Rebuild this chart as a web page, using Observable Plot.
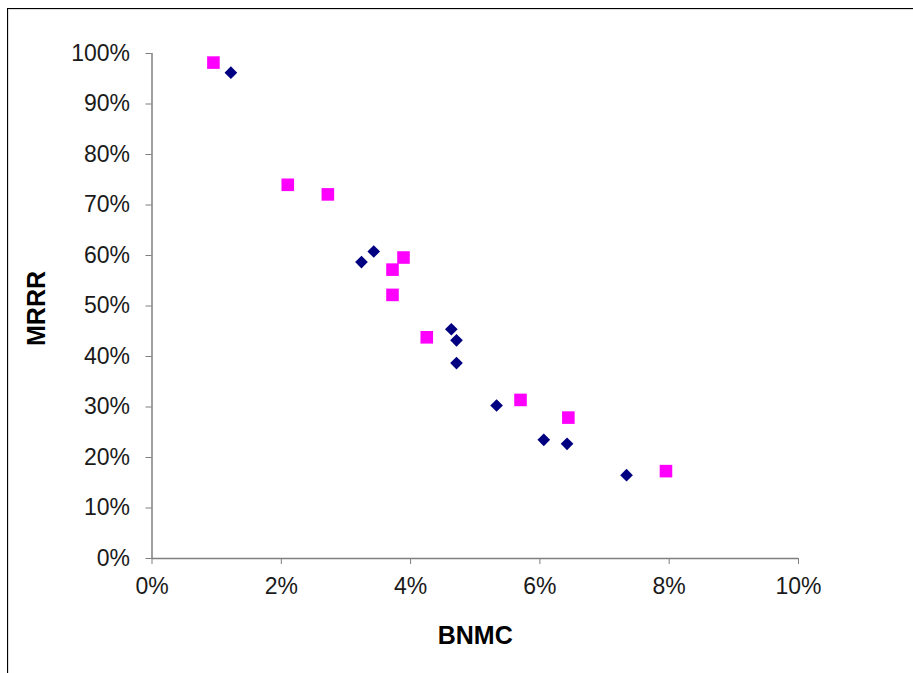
<!DOCTYPE html>
<html>
<head>
<meta charset="utf-8">
<script src="https://cdn.jsdelivr.net/npm/d3@7"></script>
<script src="https://cdn.jsdelivr.net/npm/@observablehq/plot@0.6"></script>
<style>
  html, body { margin: 0; padding: 0; background: #fff; }
  #wrap { position: relative; width: 913px; height: 673px; overflow: hidden; }
  #border { position: absolute; left: 7px; top: 8px; width: 1000px; height: 1000px;
            border-left: 1.5px solid #000; border-top: 1.5px solid #000;
            box-shadow: inset 1px 1px 0 #ddd; pointer-events: none; }
  #chart { position: absolute; left: 0; top: 0; }
</style>
</head>
<body>
<div id="wrap"><div id="chart"></div><div id="border"></div></div>
<script>
// Series 1 (magenta squares): BNMC (x, fraction) and MRRR (y, fraction)
const squareX = [0.0095, 0.0210, 0.0272, 0.0372, 0.0389, 0.0372, 0.0425, 0.0570, 0.0644, 0.0795];
const squareY = [0.982, 0.740, 0.721, 0.572, 0.596, 0.522, 0.438, 0.314, 0.279, 0.173];
// Series 2 (navy diamonds)
const diamondX = [0.0122, 0.0324, 0.0343, 0.0463, 0.0471, 0.0471, 0.0533, 0.0606, 0.0642, 0.0734];
const diamondY = [0.962, 0.587, 0.608, 0.454, 0.432, 0.387, 0.303, 0.235, 0.227, 0.165];
// Ticks and labels
const xTicks = [0, 0.02, 0.04, 0.06, 0.08, 0.10];
const yTicks = [0, 0.1, 0.2, 0.3, 0.4, 0.5, 0.6, 0.7, 0.8, 0.9, 1.0];
const xLabel = "BNMC";
const yLabel = "MRRR";

const squares = squareX.map((x, i) => ({x, y: squareY[i]}));
const diamonds = diamondX.map((x, i) => ({x, y: diamondY[i]}));
const pct = d => Math.round(d * 100) + "%";

const chart = Plot.plot({
  width: 913,
  height: 673,
  marginLeft: 151.5,
  marginRight: 115,
  marginTop: 53,
  marginBottom: 115,
  style: {fontFamily: "'Liberation Sans', Arial, sans-serif", background: "transparent"},
  x: {domain: [0, 0.10]},
  y: {domain: [0, 1]},
  marks: [
    Plot.axisX({ticks: xTicks, tickFormat: pct, tickSize: 6, tickPadding: 13,
      stroke: "#7f7f7f", fill: "#1a1a1a", fontSize: 23, label: null}),
    Plot.axisY({ticks: yTicks, tickFormat: pct, tickSize: 6, tickPadding: 16,
      stroke: "#7f7f7f", fill: "#1a1a1a", fontSize: 23, label: null}),
    Plot.ruleX([0], {stroke: "#7f7f7f", strokeWidth: 1.5}),
    Plot.ruleY([0], {stroke: "#7f7f7f", strokeWidth: 1.5}),
    Plot.dot(squares, {x: "x", y: "y", symbol: "square", r: 7.1, fill: "#FF00FF", stroke: "none"}),
    Plot.dot(diamonds, {x: "x", y: "y", symbol: "diamond2", r: 5.7, fill: "#000080", stroke: "none"}),
    Plot.text([xLabel], {frameAnchor: "bottom", dy: 77, text: d => d,
      textAnchor: "middle", lineAnchor: "middle",
      fontSize: 25, fontWeight: "bold", fill: "#000"}),
    Plot.text([yLabel], {frameAnchor: "left", dx: -115, dy: 2.5, rotate: -90, text: d => d,
      textAnchor: "middle", lineAnchor: "middle",
      fontSize: 25, fontWeight: "bold", fill: "#000"})
  ]
});
document.getElementById("chart").appendChild(chart);
</script>
</body>
</html>
